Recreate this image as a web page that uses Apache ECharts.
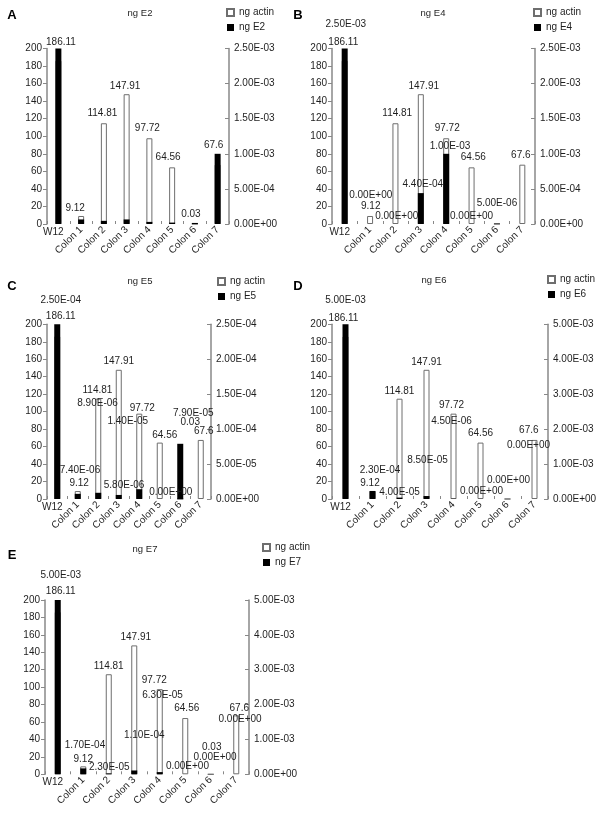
<!DOCTYPE html>
<html><head><meta charset="utf-8">
<script src="https://cdn.jsdelivr.net/npm/echarts@6/dist/echarts.min.js"></script>
<style>html,body{margin:0;padding:0;background:#fff;}#c{width:600px;height:815px;}</style>
</head><body><div id="c"></div>
<script>
// ---------------- DATA ----------------
const categories = ['W12', 'Colon 1', 'Colon 2', 'Colon 3', 'Colon 4', 'Colon 5', 'Colon 6', 'Colon 7'];
const ngActin = [186.11, 9.12, 114.81, 147.91, 97.72, 64.56, 0.03, 67.6];
const ngE2 = [2.5e-3, 6.5e-5, 4.5e-5, 6.5e-5, 3.0e-5, 2.0e-5, 1.5e-5, 1.0e-3];
const ngE4 = [2.5e-3, 0, 0, 4.4e-4, 1.0e-3, 0, 5e-6, null];
const ngE5 = [2.5e-4, 7.4e-6, 8.9e-6, 5.8e-6, 1.4e-5, 0, 7.9e-5, null];
const ngE6 = [5e-3, 2.3e-4, 4e-5, 8.5e-5, 4.5e-6, 0, 0, 0];
const ngE7 = [5e-3, 1.7e-4, 2.3e-5, 1.1e-4, 6.3e-5, 0, 0, 0];
const leftAxisMax = 200, leftAxisStep = 20;
const rightAxisE2 = [0, 2.5e-3, 5e-4];
const rightAxisE4 = [0, 2.5e-3, 5e-4];
const rightAxisE5 = [0, 2.5e-4, 5e-5];
const rightAxisE6 = [0, 5e-3, 1e-3];
const rightAxisE7 = [0, 5e-3, 1e-3];

// ---------------- LAYOUT / STYLE ----------------
const FONT = 'Liberation Sans';
const TXT = '#1e1e1e';
const AX = '#888888';
const panels = [
  { letter: 'A', name: 'ng E2', data: ngE2, axis: rightAxisE2, box: [47, 48.5, 229, 224], title: [140, 13], letterPos: [12, 15], legend: [221, 2.5],
    actinOff: [[2.6,-11.2],[-6,0],[-1.5,-2.4],[-1.5,0],[-2,-2.4],[-4,-2.5],[-4,-1.5],[-4,-12]],
    eOff: [null,null,null,null,null,null,null,null] },
  { letter: 'B', name: 'ng E4', data: ngE4, axis: rightAxisE4, box: [332, 48.5, 535, 224], title: [433, 13], letterPos: [298, 15], legend: [528, 2.5],
    actinOff: [[-1.4,-11.2],[0.7,-1.8],[1.8,-2.4],[2.9,0],[1,-2.4],[1.7,-2.5],null,[-1.5,-2.2]],
    eOff: [[1.1,-17],[0.7,-21.5],[1.3,-0.5],[2,-1.3],[3.8,0],[0,-0.5],[0,-12.5],null] },
  { letter: 'C', name: 'ng E5', data: ngE5, axis: rightAxisE5, box: [47, 324.3, 211, 499], title: [140, 281.7], letterPos: [12, 286.5], legend: [212, 271.5],
    actinOff: [[3.5,-12.2],[1.4,0],[-0.8,-1.2],[0,-0.6],[3,2],[5,0],[10,-68.5],[3,-1.5]],
    eOff: [[3.5,-16.8],[2.2,-16.3],[-0.7,-82],[5.3,-1.7],[-11.5,-60],[11,1],[13,-23],null] },
  { letter: 'D', name: 'ng E6', data: ngE6, axis: rightAxisE6, box: [332, 324.3, 548, 499], title: [434, 280], letterPos: [298, 286], legend: [542, 269.5],
    actinOff: [[-2,-11],[-2.5,0],[0,0],[0,0],[-2,-1],[0,-2],null,[-5.7,-2.5]],
    eOff: [[0,-17],[7.5,-13.5],[0,2],[1,-28.5],[-2,-69.6],[1,0],[1,-11],[-6,-46.5]] },
  { letter: 'E', name: 'ng E7', data: ngE7, axis: rightAxisE7, box: [45, 600, 249, 774.3], title: [145, 549], letterPos: [12, 555], legend: [257, 537.5],
    actinOff: [[3,-13],[0,0],[0,0],[1.5,-1],[-5.5,-1],[1.5,-2],[1,-19.5],[3,0]],
    eOff: [[3,-17.5],[1.7,-15.2],[0.5,1.3],[10,-27.3],[2.8,-69],[2.2,-1],[4.3,-10],[3.8,-47.5]] }
];

function sci(v) {
  if (v === null || v === undefined) return '';
  if (Math.abs(v) < 1e-15) return '0.00E+00';
  let e = Math.floor(Math.log10(Math.abs(v)) + 1e-9);
  let m = v / Math.pow(10, e);
  if (Math.abs(m) >= 9.995) { m /= 10; e++; }
  return m.toFixed(2) + 'E' + (e < 0 ? '-' : '+') + String(Math.abs(e)).padStart(2, '0');
}

const grid = [], xAxis = [], yAxis = [], series = [], legend = [], graphic = [];
const lbl = { fontSize: 10, fontFamily: FONT, color: TXT };

panels.forEach((p, i) => {
  const [l, t, r, b] = p.box;
  grid.push({ left: l, top: t, width: r - l, height: b - t, containLabel: false });
  xAxis.push({
    type: 'category', gridIndex: i, data: categories, position: 'bottom',
    axisLine: { show: false },
    axisTick: { show: true, inside: true, length: 3, alignWithLabel: false, lineStyle: { color: AX, width: 1 } },
    axisLabel: Object.assign({ interval: 0, rotate: 45, margin: 4, formatter: v => v === 'W12' ? '' : v }, lbl)
  });
  xAxis.push({
    type: 'category', gridIndex: i, data: categories, position: 'bottom',
    axisLine: { show: false }, axisTick: { show: false },
    axisLabel: Object.assign({ interval: 0, rotate: 0, margin: 3,
      formatter: v => v === 'W12' ? '{w|W12}' : '',
      rich: { w: { fontSize: 10, fontFamily: FONT, color: TXT, padding: [0, 10, 0, 0] } } }, lbl)
  });
  yAxis.push({
    type: 'value', gridIndex: i, min: 0, max: leftAxisMax, interval: leftAxisStep, position: 'left',
    splitLine: { show: false },
    axisLine: { show: true, lineStyle: { color: AX, width: 1.5 } },
    axisTick: { show: true, length: 4, lineStyle: { color: AX } },
    axisLabel: Object.assign({ margin: 5 }, lbl)
  });
  yAxis.push({
    type: 'value', gridIndex: i, min: p.axis[0], max: p.axis[1], interval: p.axis[2], position: 'right',
    splitLine: { show: false },
    axisLine: { show: true, lineStyle: { color: AX, width: 1.5 } },
    axisTick: { show: true, inside: true, length: 4, lineStyle: { color: AX } },
    axisLabel: Object.assign({ margin: 5, formatter: v => sci(v) }, lbl)
  });
  series.push({
    name: 'ng actin', type: 'bar', xAxisIndex: 2 * i, yAxisIndex: 2 * i, barWidth: 6, barGap: '-100%', z: 2,
    itemStyle: { color: '#ffffff', borderColor: '#6e6e6e', borderWidth: 1 },
    label: Object.assign({ position: 'top', distance: 2.5, lineHeight: 10, formatter: q => String(q.value) }, lbl),
    data: ngActin.map((v, k) => ({ value: v, label: p.actinOff[k] ? { show: true, offset: p.actinOff[k] } : { show: false } }))
  });
  series.push({
    name: p.name, type: 'bar', xAxisIndex: 2 * i, yAxisIndex: 2 * i + 1, barWidth: 6, barGap: '-100%', z: 3,
    itemStyle: { color: '#000000' },
    label: Object.assign({ position: 'top', distance: 2.5, lineHeight: 10, formatter: q => sci(q.value) }, lbl),
    data: p.data.map((v, k) => ({ value: v, label: p.eOff[k] ? { show: true, offset: p.eOff[k] } : { show: false } }))
  });
  legend.push({
    orient: 'vertical', left: p.legend[0], top: p.legend[1], itemWidth: 7, itemHeight: 7, itemGap: 5,
    icon: 'rect', selectedMode: false, data: ['ng actin', p.name],
    textStyle: { fontSize: 10, fontFamily: FONT, color: TXT }
  });
  graphic.push({ type: 'text', x: p.title[0], y: p.title[1],
    style: { text: p.name, align: 'center', verticalAlign: 'middle', font: '9.5px "' + FONT + '"', fill: TXT } });
  graphic.push({ type: 'text', x: p.letterPos[0], y: p.letterPos[1],
    style: { text: p.letter, align: 'center', verticalAlign: 'middle', font: 'bold 13px "' + FONT + '"', fill: '#000' } });
});

const chart = echarts.init(document.getElementById('c'), null, { renderer: 'canvas' });
chart.setOption({ animation: false, backgroundColor: '#ffffff', grid, xAxis, yAxis, series, legend, graphic });
</script>
</body></html>
